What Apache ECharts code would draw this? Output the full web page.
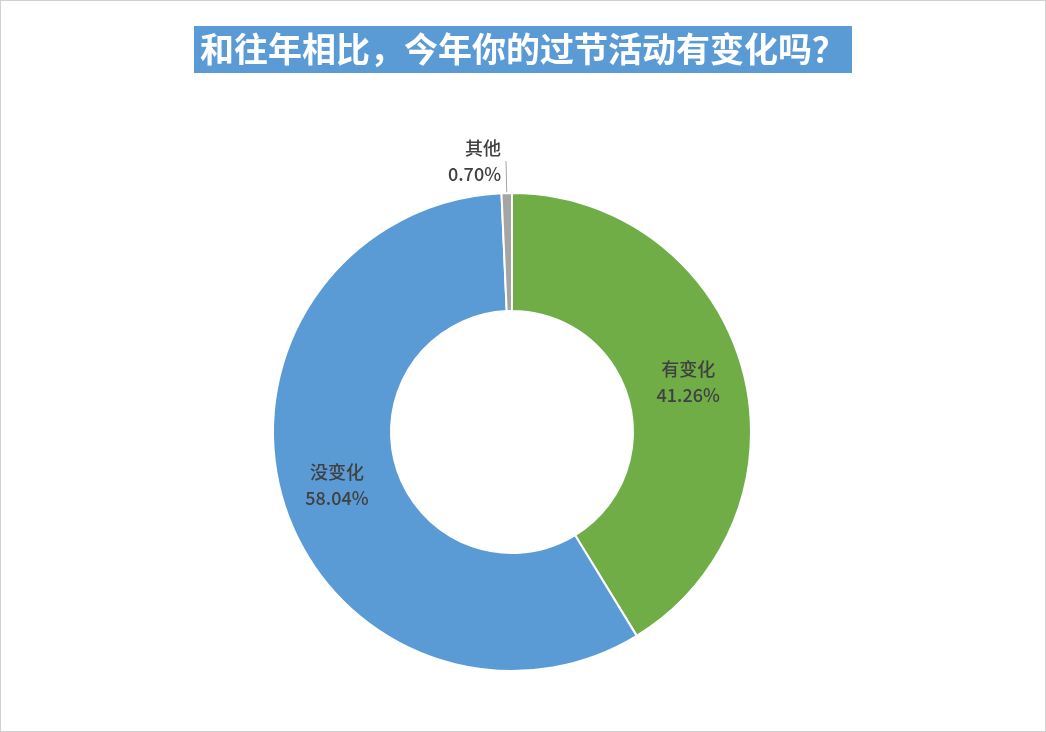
<!DOCTYPE html>
<html><head><meta charset="utf-8">
<script src="https://cdn.jsdelivr.net/npm/echarts@6/dist/echarts.min.js"></script>
<style>html,body{margin:0;padding:0;background:#fff}#c{width:1046px;height:732px;box-sizing:border-box;border:1px solid #d0d0d0}</style>
</head><body><div id="c"></div>
<script>
const categories = ['有变化', '没变化', '其他'];
const values = [41.26, 58.04, 0.70];
const colors = ['#70AD47', '#5B9BD5', '#A5A5A5'];
const chart = echarts.init(document.getElementById('c'));
const data = categories.map((n, i) => {
  const d = {name: n, value: values[i], itemStyle: {color: colors[i]}};
  if (n === '其他') {
    d.label = {position: 'outside', align: 'center', fontWeight: 500, distance: 4};
    d.labelLine = {show: true, length: 32, length2: 0, lineStyle: {color: '#A5A5A5'}};
  }
  return d;
});
chart.setOption({
  title: {
    text: '和往年相比，今年你的过节活动有变化吗？',
    left: 'center', top: 25,
    backgroundColor: '#5B9BD5', padding: [5, 6],
    textStyle: {color: '#fff', fontSize: 34, fontWeight: 'bold', fontFamily: 'Noto Sans CJK SC', lineHeight: 37}
  },
  series: [{
    type: 'pie', center: [511, 431], radius: [121, 239], startAngle: 90, clockwise: true,
    avoidLabelOverlap: false,
    itemStyle: {borderColor: '#fff', borderWidth: 2},
    label: {
      show: true, position: 'inside', color: '#404040', fontSize: 18, fontWeight: 500,
      fontFamily: 'Noto Sans CJK SC', lineHeight: 26,
      formatter: p => p.name + '\n' + p.value.toFixed(2) + '%'
    },
    labelLine: {show: false},
    data: data
  }]
});
</script></body></html>
